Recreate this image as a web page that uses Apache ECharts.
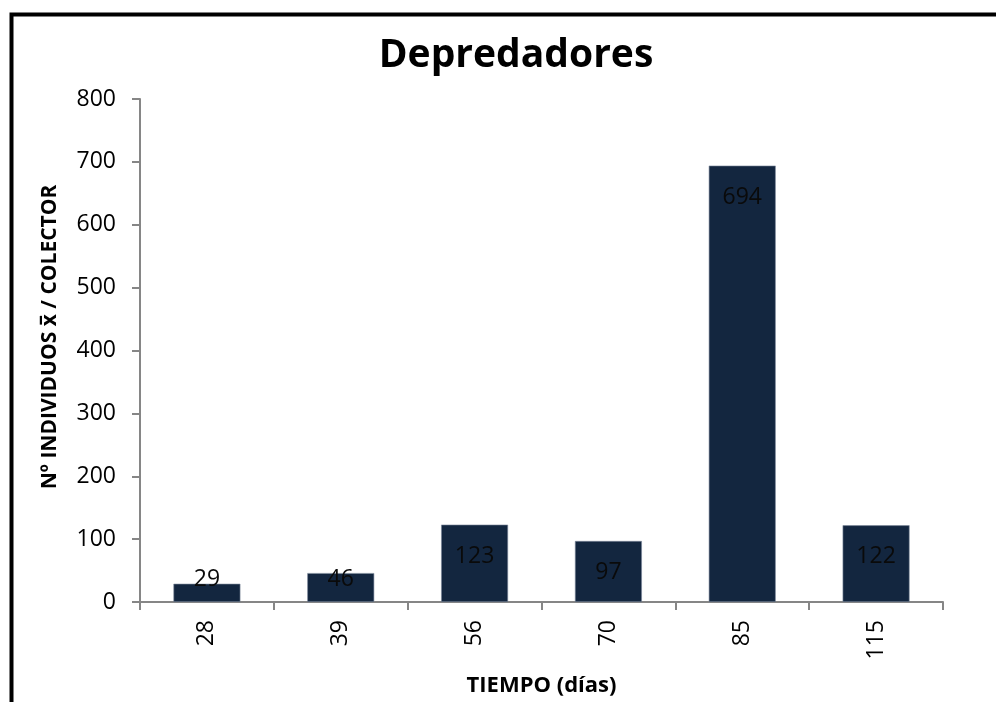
<!DOCTYPE html>
<html>
<head>
<meta charset="utf-8">
<script src="https://cdn.jsdelivr.net/npm/echarts@6/dist/echarts.min.js"></script>
<style>
  html, body { margin: 0; padding: 0; background: #fff; }
  #chart { width: 996px; height: 702px; }
</style>
</head>
<body>
<div id="chart"></div>
<script>
// Sampling days and mean number of predators per collector
const dias = ['28', '39', '56', '70', '85', '115'];
const individuos = [29, 46, 123, 97, 694, 122];
const yTicks = { min: 0, max: 800, step: 100 };

const FONT = '"Open Sans", "Noto Sans", sans-serif';
const BAR = '#13263f';

const chart = echarts.init(document.getElementById('chart'), null, { renderer: 'canvas' });

// Short bars get their value label lifted from the base instead of hanging from the top
const barData = individuos.map(v => ({
  value: v,
  label: v < 60
    ? { position: 'insideBottom', distance: 11 }
    : { position: 'insideTop', distance: 20 }
}));

chart.setOption({
  animation: false,
  backgroundColor: '#ffffff',
  grid: { left: 140, right: 53, top: 99, bottom: 99, containLabel: false },
  graphic: [
    {
      type: 'rect',
      shape: { x: 11.5, y: 14.5, width: 1200, height: 1200 },
      style: { fill: 'none', stroke: '#000', lineWidth: 4 },
      silent: true
    },
    {
      type: 'text',
      x: 516, y: 56,
      style: {
        text: 'Depredadores',
        font: 'bold 39px ' + FONT,
        fill: '#000',
        align: 'center',
        verticalAlign: 'middle'
      }
    },
    {
      type: 'text',
      x: 50, y: 337,
      rotation: Math.PI / 2,
      style: {
        text: 'Nº INDIVIDUOS x\u0305 / COLECTOR',
        font: 'bold 21px ' + FONT,
        fill: '#000',
        align: 'center',
        verticalAlign: 'middle'
      }
    }
  ],
  xAxis: {
    type: 'category',
    data: dias,
    name: 'TIEMPO (días)',
    nameLocation: 'middle',
    nameGap: 73,
    nameTextStyle: { fontFamily: FONT, fontWeight: 'bold', fontSize: 22, color: '#000', verticalAlign: 'top' },
    axisLine: { show: true, lineStyle: { color: '#868686', width: 2 } },
    axisTick: { show: true, length: 8, lineStyle: { color: '#868686', width: 2 } },
    axisLabel: { rotate: 90, margin: 18, fontFamily: FONT, fontSize: 23, color: '#000' },
    splitLine: { show: false }
  },
  yAxis: {
    type: 'value',
    min: yTicks.min,
    max: yTicks.max,
    interval: yTicks.step,
    axisLine: { show: true, lineStyle: { color: '#868686', width: 2 } },
    axisTick: { show: true, length: 8, lineStyle: { color: '#868686', width: 2 } },
    axisLabel: { margin: 24, fontFamily: FONT, fontSize: 23, color: '#000' },
    splitLine: { show: false }
  },
  series: [{
    type: 'bar',
    data: barData,
    barWidth: '50%',
    itemStyle: { color: BAR, borderColor: '#7d8a9c', borderWidth: 0.6 },
    label: {
      show: true,
      fontFamily: FONT,
      fontSize: 23,
      color: '#0a0a0a'
    }
  }]
});
</script>
</body>
</html>
